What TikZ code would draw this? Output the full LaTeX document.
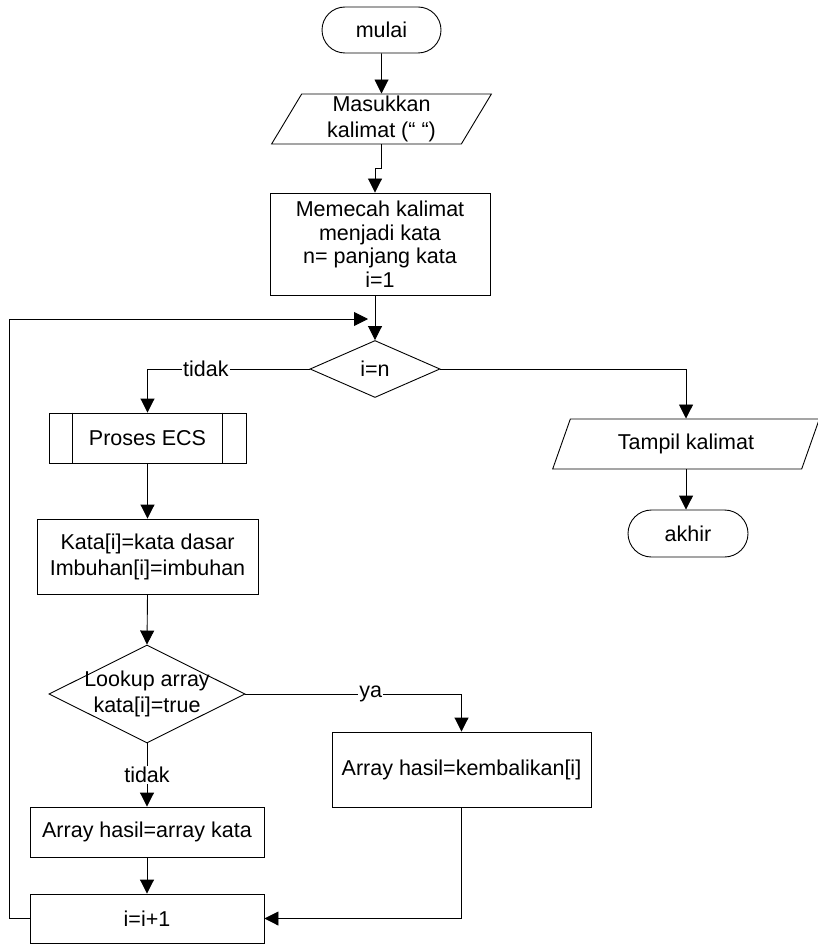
\documentclass[tikz,border=0pt]{standalone}
\usepackage{fontspec}
\setmainfont{Liberation Sans}
\usetikzlibrary{shapes.geometric,shapes.misc,arrows.meta}
\newcommand\myfont{\fontsize{21.5}{26}\selectfont}
\tikzset{
 base/.style={draw, line width=0.9pt, font=\myfont, align=center, inner sep=2pt},
 term/.style={base, rounded rectangle},
 io/.style={base, trapezium, trapezium left angle=67, trapezium right angle=113, trapezium stretches=true},
 proc/.style={base, rectangle},
 decision/.style={base, diamond, inner sep=0pt},
 arr/.style={draw, line width=0.9pt, -{Triangle[length=14pt,width=14pt]}},
 ln/.style={draw, line width=0.9pt},
 lbl/.style={font=\myfont, fill=white, inner sep=1pt},
 txt/.style={font=\myfont, align=center, inner sep=0pt}
}
\begin{document}
\begin{tikzpicture}[x=1pt,y=-1pt]
\useasboundingbox (0,0) rectangle (817,944);
\node[term, minimum width=123, minimum height=46] (start) at (381.5,30) {mulai};
\node[io, minimum width=220, minimum height=50] (in1) at (381.5,119) {Masukkan\\kalimat (“ “)};
\node[proc, minimum width=220, minimum height=102, font=\fontsize{21.5}{23.5}\selectfont] (box1) at (380,244) {Memecah kalimat\\menjadi kata\\n= panjang kata\\i=1};
\node[decision, minimum width=130, minimum height=57] (d1) at (375,369) {};
\node[txt] (d1t) at (d1) {i=n};
\node[proc, minimum width=197, minimum height=50] (ecs) at (147.5,438) {Proses ECS};
\draw[ln] ([xshift=24]ecs.north west) -- ([xshift=24]ecs.south west);
\draw[ln] ([xshift=-24]ecs.north east) -- ([xshift=-24]ecs.south east);
\node[io, trapezium left angle=66, trapezium right angle=114, minimum width=267, minimum height=50] (out) at (686,444) {Tampil kalimat};
\node[term, minimum width=124, minimum height=47] (end) at (688,533.5) {akhir};
\node[proc, minimum width=221, minimum height=75] (kata) at (147.5,556.5) {Kata[i]=kata dasar\\Imbuhan[i]=imbuhan};
\node[decision, minimum width=196, minimum height=98] (d2) at (147,694) {};
\node[txt] (d2t) at (d2) {Lookup array\\kata[i]=true};
\node[proc, minimum width=259, minimum height=75] (kemb) at (461.5,769.5) {Array hasil=kembalikan[i]};
\node[proc, minimum width=234, minimum height=50] (ak) at (147,832) {Array hasil=array kata};
\node[proc, minimum width=234, minimum height=49] (inc) at (147,918.5) {i=i+1};
\coordinate (lp) at (368,319);
% connectors
\draw[arr] (start.south) -- (in1.south |- in1.north);
\draw[arr] (in1.south) -- ++(0,24) -| (box1.north -| d1.north);
\draw[arr] (box1.south -| d1.north) -- (d1.north);
\draw[arr] (d1.west) -| node[lbl, pos=0.32] {tidak} (ecs.north);
\draw[arr] (d1.east) -| (out.north);
\draw[arr] (out.south) -- (out.south |- end.north);
\draw[arr] (ecs.south) -- (kata.north);
\draw[arr] (kata.south) -- (d2.north);
\draw[arr] (d2.east) -| node[lbl, pos=0.29] {ya} (kemb.north);
\draw[arr] (d2.south) -- node[lbl, pos=0.5] {tidak} (ak.north);
\draw[arr] (ak.south) -- (inc.north);
\draw[arr] (kemb.south) |- (inc.east);
\draw[arr] (inc.west) -- ++(-20,0) |- (lp);
\end{tikzpicture}
\end{document}
